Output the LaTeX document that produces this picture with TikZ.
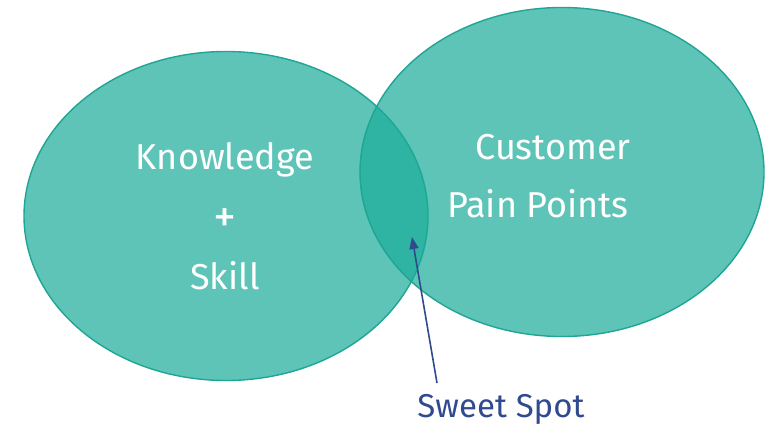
\documentclass[tikz,border=0pt]{standalone}
\usepackage{fontspec}
\setmainfont{Fira Sans}
\usetikzlibrary{shapes.geometric,arrows.meta}
\definecolor{tealfill}{HTML}{1AAB99}
\definecolor{tealline}{HTML}{1FA593}
\definecolor{spotblue}{HTML}{2F4A8E}
\tikzstyle{venn}=[ellipse,draw=tealline,line width=1.4pt,fill=tealfill,fill opacity=0.7,minimum width=404pt,minimum height=329pt,inner sep=0pt]
\tikzstyle{big}=[text=white,font=\fontsize{36}{40}\selectfont,inner sep=0pt]
\tikzstyle{pointer}=[-{Triangle[length=12pt,width=9pt]},draw=spotblue,fill=spotblue,line width=1.6pt]

\begin{document}
\begin{tikzpicture}[x=1pt,y=-1pt]
\useasboundingbox (0,0) rectangle (770,433);
\node[venn] (know) at (226, 216) {};
\node[venn] (pain) at (562, 172) {};
\node[big] (k1) at (225, 160) {Knowledge};
\node[big,font=\fontsize{46}{48}\selectfont] (k2) at (225, 221) {+};
\node[big] (k3) at (225, 276) {Skill};
\node[big] (p1) at (553, 147) {Customer};
\node[big] (p2) at (538, 204) {Pain Points};
\node[text=spotblue,font=\fontsize{33}{36}\selectfont,inner sep=0pt] (sweet) at (501, 409) {Sweet Spot};
\coordinate (tail) at (437, 383);
\coordinate (spot) at (412, 237);
\draw[pointer] (tail) -- (spot);
\end{tikzpicture}
\end{document}
